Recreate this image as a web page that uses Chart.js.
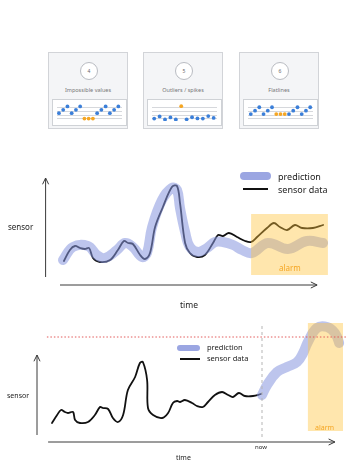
<!DOCTYPE html>
<html>
<head>
<meta charset="utf-8">
<script src="https://cdn.jsdelivr.net/npm/chart.js@4"></script>
<style>
  html, body { margin: 0; padding: 0; background: #fff; }
  body { position: relative; width: 347px; height: 471px; overflow: hidden; font-family: "Noto Sans", sans-serif; }
  .card { position: absolute; top: 52px; width: 80px; height: 77px; background: #f4f5f7; border: 1px solid #d2d4d8; box-sizing: border-box; }
  .card .num { position: absolute; left: 31px; top: 9px; width: 18px; height: 18px; border: 1px solid #b9bcc2; border-radius: 50%; background: #fff; box-sizing: border-box; font-size: 5px; color: #666; text-align: center; line-height: 16px; }
  .card .ttl { position: absolute; left: 0; right: 0; top: 33px; text-align: center; font-size: 5.5px; color: #777; }
  .card .box { position: absolute; left: 3px; top: 46px; width: 75px; height: 27px; background: #fff; border: 1px solid #cfd2d6; box-sizing: border-box; }
  .card canvas { position: absolute; left: 0; top: 0; }
  .big { position: absolute; left: 0; }
  .lbl { position: absolute; transform: translateY(-50%); white-space: nowrap; color: #222; line-height: 1; }
  .sw { position: absolute; }
</style>
</head>
<body>

<div class="card" style="left:48px"><div class="num">4</div><div class="ttl">Impossible values</div><div class="box"><canvas id="mini1" width="73" height="25"></canvas></div></div>
<div class="card" style="left:143px"><div class="num">5</div><div class="ttl">Outliers / spikes</div><div class="box"><canvas id="mini2" width="73" height="25"></canvas></div></div>
<div class="card" style="left:239px"><div class="num">6</div><div class="ttl">Flatlines</div><div class="box"><canvas id="mini3" width="73" height="25"></canvas></div></div>

<canvas id="chartAlarm" class="big" style="top:160px" width="347" height="160"></canvas>
<canvas id="chartForecast" class="big" style="top:320px" width="347" height="151"></canvas>

<!-- labels of the middle chart -->
<div class="sw" style="left:240px;top:172px;width:31px;height:8px;border-radius:4px;background:#9ba6e2"></div>
<div class="lbl" style="left:278px;top:176px;font-size:9px">prediction</div>
<div class="sw" style="left:243px;top:188px;width:25px;height:2px;background:#111"></div>
<div class="lbl" style="left:278px;top:189px;font-size:9px">sensor data</div>
<div class="lbl" style="left:8px;top:227px;font-size:8px">sensor</div>
<div class="lbl" style="left:180px;top:305px;font-size:8.5px">time</div>
<div class="lbl" style="left:279px;top:268px;font-size:8px;color:#f5a623">alarm</div>

<!-- labels of the bottom chart -->
<div class="sw" style="left:177px;top:345px;width:23px;height:6px;border-radius:3px;background:#9ba6e2"></div>
<div class="lbl" style="left:207px;top:348px;font-size:7.5px">prediction</div>
<div class="sw" style="left:180px;top:358px;width:20px;height:2px;background:#111"></div>
<div class="lbl" style="left:207px;top:359px;font-size:7.5px">sensor data</div>
<div class="lbl" style="left:7px;top:395px;font-size:7px">sensor</div>
<div class="lbl" style="left:176px;top:457px;font-size:7px">time</div>
<div class="lbl" style="left:255px;top:447px;font-size:6px">now</div>
<div class="lbl" style="left:315px;top:427px;font-size:7px;color:#f5a623">alarm</div>

<script>
// mini charts (value per sample, null = no point)
const impossibleOk   = [2.3, 3.3, 4.3, 2.3, 3.3, 4.3, null, null, null, 2.3, 3.3, 4.3, 2.3, 3.3, 4.3];
const impossibleBad  = [null, null, null, null, null, null, 0.7, 0.7, 0.7, null, null, null, null, null, null];
const spikesOk       = [0.7, 1.36, 0.44, 1.04, 0.44, null, 0.5, 1.1, 0.76, 0.7, 1.44, 0.9];
const spikesBad      = [null, null, null, null, null, 4.36, null, null, null, null, null, null];
const flatOk         = [2.04, 3.04, 4.04, 2.04, 3.04, 4.04, null, null, null, 2.04, 3.04, 4.04, 2.04, 3.04, 4.04];
const flatBad        = [null, null, null, null, null, null, 2.04, 2.04, 2.04, null, null, null, null, null, null];
const miniGrid       = [0.65, 1.7, 2.75, 3.95];

// middle chart: time 0..100, sensor 0..110
const alarmSensorT = [6.3, 8.3, 10, 11.7, 13.3, 14.7, 16, 18.3, 21.7, 24.3, 26.3, 27.7, 29.3, 31.7, 33.3, 35, 36.7, 39.3, 42.3, 44, 45, 46.7, 48.3, 50.7, 53.3, 56, 57.7, 59.3, 61.3, 64, 66.7, 68.7, 70.7, 74, 76.3, 78.3, 80.7, 83.3, 85.7, 89.3, 92.7];
const alarmSensorV = [24, 35, 39, 37, 36, 37, 27, 23, 25, 35, 44, 42, 41, 30, 26, 32, 58, 78, 98, 99, 82, 42, 32, 28, 30, 42, 50, 49, 52, 48, 44, 43, 48, 57, 62, 58, 55, 60, 57, 57, 60];
const alarmPredT = [6, 9.3, 14.3, 17.3, 20, 24, 26.7, 29.3, 32.3, 34, 35.7, 39, 42.3, 44, 45, 46.7, 48.3, 51, 54, 56.7, 59.3, 62.7, 65.7, 69, 74.3, 81, 87.3, 92.7];
const alarmPredV = [25, 38, 39, 30, 27, 35, 42, 38, 28, 32, 58, 85, 97, 95, 77, 53, 38, 33, 37, 43, 43, 40, 35, 32, 42, 36, 44, 42];

// bottom chart: time 0..100, sensor 0..120
const fcSensorT = [5, 6.7, 8, 9.3, 10.3, 12, 12.7, 14.3, 17, 19.3, 21, 22, 23.7, 25.3, 27, 28.7, 30.3, 32.7, 34.3, 35.3, 36.7, 37, 38.7, 41.7, 43.7, 45.3, 46.7, 47.7, 49.3, 51.7, 53.3, 55.3, 57, 59.3, 61.7, 63.7, 65.3, 67.3, 69.3, 72, 74.7];
const fcSensorV = [19, 27, 32, 30, 29, 30, 22, 19, 20, 27, 35, 34, 33, 24, 20, 27, 52, 65, 79, 80, 62, 34, 27, 24, 29, 39, 41, 40, 42, 39, 36, 35, 40, 47, 50, 47, 45, 49, 46, 46, 48];
const fcPredT = [75, 76.7, 80, 83.3, 86.7, 88.7, 90.3, 93.3, 96.7, 99.3, 100.7, 101];
const fcPredV = [47, 57, 70, 75, 80, 89, 100, 114, 115, 109, 99, 90];
const fcThreshold = 105;
const fcNow = 75;

const BLUE = '#3b7fd9';
const ORANGE = '#f5a623';

function pts(vals) {
    return vals.map((v, i) => ({ x: i, y: v })).filter(p => p.y !== null);
}

function xy(ts, vs) {
    return ts.map((t, i) => ({ x: t, y: vs[i] }));
}

function miniChart(id, ok, bad, xmin, xmax) {
    new Chart(document.getElementById(id), {
        type: 'scatter',
        data: {
            datasets: [
                { data: pts(ok), pointRadius: 1.9, pointBackgroundColor: BLUE, pointBorderWidth: 0 },
                { data: pts(bad), pointRadius: 1.9, pointBackgroundColor: ORANGE, pointBorderWidth: 0 }
            ]
        },
        options: {
            responsive: false,
            animation: false,
            events: [],
            layout: { padding: 0 },
            plugins: { legend: { display: false }, tooltip: { enabled: false } },
            scales: {
                x: { type: 'linear', min: xmin, max: xmax, display: false },
                y: {
                    min: 0, max: 5,
                    afterBuildTicks: s => { s.ticks = miniGrid.map(v => ({ value: v })); },
                    ticks: { display: false },
                    border: { display: false },
                    grid: { color: '#d6d8dc', lineWidth: 1, drawTicks: false }
                }
            }
        }
    });
}

miniChart('mini1', impossibleOk, impossibleBad, -0.46, 14.86);
miniChart('mini2', spikesOk, spikesBad, -0.41, 11.62);
miniChart('mini3', flatOk, flatBad, -0.66, 14.66);

// arrows, alarm box, threshold and "now" line
function arrow(ctx, x1, y1, x2, y2) {
    const a = Math.atan2(y2 - y1, x2 - x1);
    const L = 7, w = 0.45;
    ctx.beginPath();
    ctx.moveTo(x1, y1);
    ctx.lineTo(x2, y2);
    ctx.moveTo(x2 - L * Math.cos(a - w), y2 - L * Math.sin(a - w));
    ctx.lineTo(x2, y2);
    ctx.lineTo(x2 - L * Math.cos(a + w), y2 - L * Math.sin(a + w));
    ctx.stroke();
}

const sketch = {
    id: 'sketch',
    afterDatasetsDraw(chart, args, o) {
        const ctx = chart.ctx, X = chart.scales.x, Y = chart.scales.y;
        ctx.save();
        if (o.now) {
            ctx.strokeStyle = '#b5b5b5';
            ctx.lineWidth = 1;
            ctx.setLineDash([3, 3]);
            ctx.beginPath();
            ctx.moveTo(X.getPixelForValue(o.now.t), Y.getPixelForValue(o.now.from));
            ctx.lineTo(X.getPixelForValue(o.now.t), Y.getPixelForValue(o.now.to));
            ctx.stroke();
            ctx.setLineDash([]);
        }
        const a = o.alarm;
        const ax = X.getPixelForValue(a.t0), ay = Y.getPixelForValue(a.v1);
        ctx.fillStyle = 'rgba(255, 195, 60, 0.42)';
        ctx.fillRect(ax, ay, X.getPixelForValue(a.t1) - ax, Y.getPixelForValue(a.v0) - ay);

        ctx.strokeStyle = '#3a3a3a';
        ctx.lineWidth = 1;
        arrow(ctx, X.getPixelForValue(o.yAxis.t), Y.getPixelForValue(o.yAxis.from),
                   X.getPixelForValue(o.yAxis.t), Y.getPixelForValue(o.yAxis.to));
        arrow(ctx, X.getPixelForValue(o.xAxis.from), Y.getPixelForValue(o.xAxis.v),
                   X.getPixelForValue(o.xAxis.to), Y.getPixelForValue(o.xAxis.v));

        if (o.threshold) {
            ctx.strokeStyle = '#e25b5b';
            ctx.setLineDash([1.5, 2]);
            ctx.beginPath();
            ctx.moveTo(X.getPixelForValue(o.threshold.from), Y.getPixelForValue(o.threshold.v));
            ctx.lineTo(X.getPixelForValue(o.threshold.to), Y.getPixelForValue(o.threshold.v));
            ctx.stroke();
        }
        ctx.restore();
    }
};

function bigChart(id, predT, predV, sensT, sensV, ymax, padding, marks) {
    new Chart(document.getElementById(id), {
        type: 'line',
        data: {
            datasets: [
                {
                    label: 'prediction',
                    data: xy(predT, predV),
                    borderColor: 'rgba(135, 150, 222, 0.55)',
                    borderWidth: 10,
                    borderCapStyle: 'round',
                    borderJoinStyle: 'round',
                    tension: 0.4,
                    pointRadius: 0,
                    clip: false
                },
                {
                    label: 'sensor data',
                    data: xy(sensT, sensV),
                    borderColor: '#111',
                    borderWidth: 1.8,
                    borderCapStyle: 'round',
                    borderJoinStyle: 'round',
                    tension: 0.35,
                    pointRadius: 0,
                    clip: false
                }
            ]
        },
        options: {
            responsive: false,
            animation: false,
            events: [],
            layout: { padding: padding },
            plugins: { legend: { display: false }, tooltip: { enabled: false }, sketch: marks },
            scales: {
                x: { type: 'linear', min: 0, max: 100, display: false },
                y: { min: 0, max: ymax, display: false }
            }
        },
        plugins: [sketch]
    });
}

bigChart('chartAlarm', alarmPredT, alarmPredV, alarmSensorT, alarmSensorV, 110,
    { left: 45, right: 2, top: 15, bottom: 35 },
    {
        yAxis: { t: 0.2, from: 8, to: 107 },
        xAxis: { v: 0, from: 5, to: 90.7 },
        alarm: { t0: 68.7, t1: 94.3, v0: 10, v1: 71 }
    });

bigChart('chartForecast', fcPredT, fcPredV, fcSensorT, fcSensorV, 120,
    { left: 37, right: 10, top: 2, bottom: 29 },
    {
        yAxis: { t: 0, from: 7, to: 87 },
        xAxis: { v: 0, from: 3.7, to: 99.3 },
        alarm: { t0: 90.3, t1: 102, v0: 11, v1: 119 },
        now: { t: fcNow, from: 5, to: 119 },
        threshold: { v: fcThreshold, from: 3.3, to: 103 }
    });
</script>
</body>
</html>
